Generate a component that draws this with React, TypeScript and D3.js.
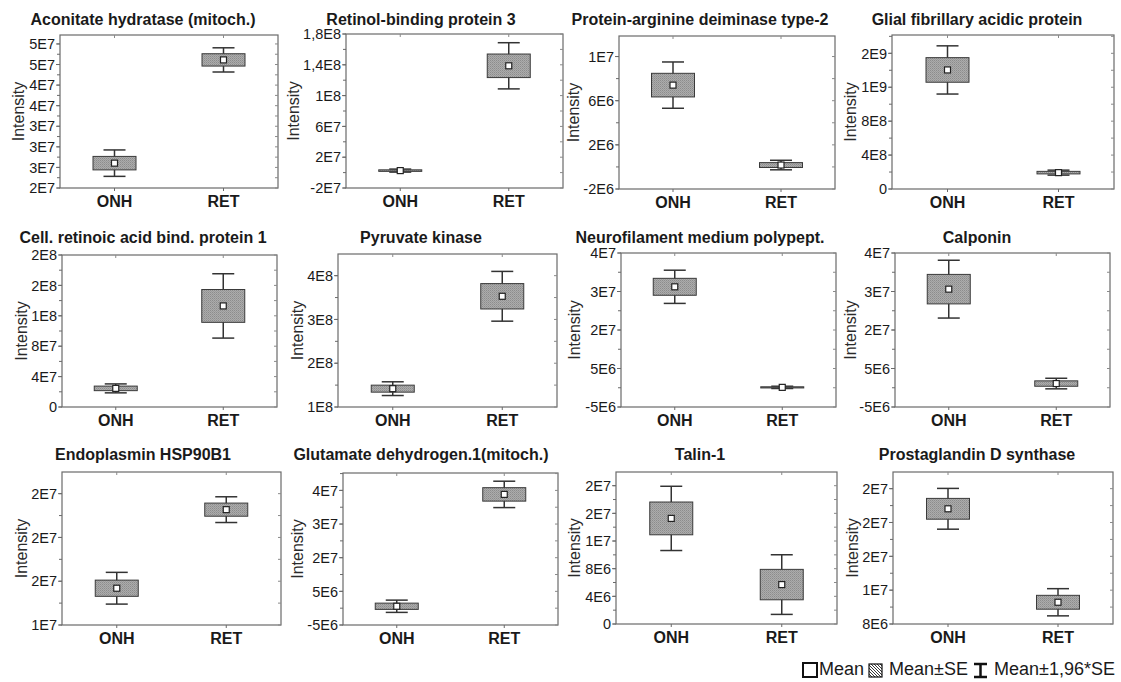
import React from "react";
import * as d3 from "d3";

// ---------- data ----------
const titles = [
  "Aconitate hydratase (mitoch.)",
  "Retinol-binding protein 3",
  "Protein-arginine deiminase type-2",
  "Glial fibrillary acidic protein",
  "Cell. retinoic acid bind. protein 1",
  "Pyruvate kinase",
  "Neurofilament medium polypept.",
  "Calponin",
  "Endoplasmin HSP90B1",
  "Glutamate dehydrogen.1(mitoch.)",
  "Talin-1",
  "Prostaglandin D synthase",
];
const groups = ["ONH", "RET"];
const onhMean = [2.683e7, 2.6e6, 7.41e6, 1.404e9, 2.45e7, 1.419e8, 2.622e7, 2.561e7, 1.568e7, 5.7e5, 1.527e7, 2.162e7];
const onhSE = [1.31e6, 1.0e6, 1.07e6, 1.45e8, 3.0e6, 8.0e6, 2.2e6, 3.83e6, 3.7e5, 9.3e5, 2.37e6, 1.23e6];
const retMean = [4.69e7, 1.387e8, 1.7e5, 1.93e8, 1.33e8, 3.529e8, 1.0e5, 1.09e6, 1.927e7, 3.381e7, 5.7e6, 1.057e7];
const retSE = [1.2e6, 1.53e7, 2.2e5, 1.5e7, 2.16e7, 2.9e7, 1.5e5, 7.0e5, 3.0e5, 2.0e6, 2.2e6, 8.2e5];

const yDomains = [
  [2.2e7, 5.174e7],
  [-2e7, 1.8e8],
  [-2e6, 1.186e7],
  [0, 1.816e9],
  [0, 2e8],
  [1e8, 4.495e8],
  [-5e6, 3.5e7],
  [-5e6, 3.5e7],
  [1.4e7, 2.099e7],
  [-5e6, 4.017e7],
  [0, 2.198e7],
  [8e6, 2.597e7],
];
const yTickValues = [
  [2.2e7, 2.6e7, 3.0e7, 3.4e7, 3.8e7, 4.2e7, 4.6e7, 5.0e7],
  [-2e7, 2e7, 6e7, 1e8, 1.4e8, 1.8e8],
  [-2e6, 2e6, 6e6, 1e7],
  [0, 4e8, 8e8, 1.2e9, 1.6e9],
  [0, 4e7, 8e7, 1.2e8, 1.6e8, 2e8],
  [1e8, 2e8, 3e8, 4e8],
  [-5e6, 5e6, 1.5e7, 2.5e7, 3.5e7],
  [-5e6, 5e6, 1.5e7, 2.5e7, 3.5e7],
  [1.4e7, 1.6e7, 1.8e7, 2.0e7],
  [-5e6, 5e6, 1.5e7, 2.5e7, 3.5e7],
  [0, 4e6, 8e6, 1.2e7, 1.6e7, 2e7],
  [8e6, 1.2e7, 1.6e7, 2e7, 2.4e7],
];
const yTickLabels = [
  ["2E7", "3E7", "3E7", "3E7", "4E7", "4E7", "5E7", "5E7"],
  ["-2E7", "2E7", "6E7", "1E8", "1,4E8", "1,8E8"],
  ["-2E6", "2E6", "6E6", "1E7"],
  ["0", "4E8", "8E8", "1E9", "2E9"],
  ["0", "4E7", "8E7", "1E8", "2E8", "2E8"],
  ["1E8", "2E8", "3E8", "4E8"],
  ["-5E6", "5E6", "2E7", "3E7", "4E7"],
  ["-5E6", "5E6", "2E7", "3E7", "4E7"],
  ["1E7", "2E7", "2E7", "2E7"],
  ["-5E6", "5E6", "2E7", "3E7", "4E7"],
  ["0", "4E6", "8E6", "1E7", "2E7", "2E7"],
  ["8E6", "1E7", "2E7", "2E7", "2E7"],
];
const yAxisTitle = "Intensity";
const legendLabels = ["Mean", "Mean±SE", "Mean±1,96*SE"];

// ---------- layout ----------
const frames = [
  { l: 60, r: 278, t: 35, b: 188, lx: 18 },
  { l: 346, r: 563, t: 34, b: 188, lx: 293 },
  { l: 619, r: 835, t: 36, b: 189, lx: 573 },
  { l: 892, r: 1114, t: 35, b: 189, lx: 850 },
  { l: 62, r: 277, t: 255, b: 407, lx: 21 },
  { l: 338, r: 557, t: 254, b: 407, lx: 297 },
  { l: 621, r: 836, t: 253, b: 407, lx: 574 },
  { l: 895, r: 1110, t: 253, b: 407, lx: 850 },
  { l: 62, r: 281, t: 472, b: 625, lx: 21 },
  { l: 343, r: 558, t: 473, b: 625, lx: 297 },
  { l: 616, r: 837, t: 472, b: 624, lx: 574 },
  { l: 893, r: 1113, t: 472, b: 624, lx: 852 },
];
const titleX = [143, 421, 700, 977];
const titleY = [25, 243, 460];
const FONT = "'Liberation Sans', Arial, Helvetica, sans-serif";
const TEXT = "#1a1a1a";
const BOX_W = 43;
const CAP_W = 22;

function Panel({ i }: { i: number }) {
  const f = frames[i];
  const y = d3.scaleLinear().domain(yDomains[i]).range([f.b, f.t]);
  const x = d3.scalePoint<string>().domain(groups).range([f.l, f.r]).padding(0.5);
  const ticks = yTickValues[i];
  const step = ticks[1] - ticks[0];
  const [d0, d1] = yDomains[i];
  const minor: number[] = [];
  for (let v = ticks[0] - step / 2; v <= d1 + 1e-9 * Math.abs(step); v += step / 2) {
    if (v >= d0 - 1e-9 * Math.abs(step)) minor.push(v);
  }
  const means = [onhMean[i], retMean[i]];
  const ses = [onhSE[i], retSE[i]];
  const col = i % 4;
  const row = Math.floor(i / 4);
  return (
    <g>
      <text
        x={titleX[col]}
        y={titleY[row]}
        textAnchor="middle"
        fontFamily={FONT}
        fontWeight="bold"
        fontSize={16}
        fill={TEXT}
      >
        {titles[i]}
      </text>
      <rect x={f.l} y={f.t} width={f.r - f.l} height={f.b - f.t} fill="white" stroke="#6a6a6a" strokeWidth={1.2} />
      {minor.map((v, k) => (
        <g key={"m" + k}>
          <line x1={f.l - 3} x2={f.l} y1={y(v)} y2={y(v)} stroke="#6a6a6a" strokeWidth={1} />
          <line x1={f.r - 3} x2={f.r} y1={y(v)} y2={y(v)} stroke="#8a8a8a" strokeWidth={1} />
        </g>
      ))}
      {ticks.map((v, k) => (
        <g key={"t" + k}>
          <line x1={f.l - 4} x2={f.l} y1={y(v)} y2={y(v)} stroke="#6a6a6a" strokeWidth={1} />
          <text
            x={f.l - 5}
            y={y(v)}
            dy="0.36em"
            textAnchor="end"
            fontFamily={FONT}
            fontSize={14.5}
            fill={TEXT}
          >
            {yTickLabels[i][k]}
          </text>
        </g>
      ))}
      {groups.map((g) => (
        <g key={"c" + g}>
          <line x1={x(g)} x2={x(g)} y1={f.t} y2={f.t + 3} stroke="#8a8a8a" strokeWidth={1} />
          <line x1={x(g)} x2={x(g)} y1={f.b} y2={f.b + 3} stroke="#6a6a6a" strokeWidth={1} />
          <text
            x={x(g)}
            y={f.b + 19}
            textAnchor="middle"
            fontFamily={FONT}
            fontWeight="bold"
            fontSize={16}
            fill={TEXT}
          >
            {g}
          </text>
        </g>
      ))}
      <text
        transform={`translate(${f.lx},${(f.t + f.b) / 2}) rotate(-90)`}
        textAnchor="middle"
        dominantBaseline="central"
        fontFamily={FONT}
        fontSize={16}
        fill="#2a2a2a"
      >
        {yAxisTitle}
      </text>
      {groups.map((g, k) => {
        const cx = x(g) as number;
        const m = means[k];
        const s = ses[k];
        const yTop = y(m + s);
        const yBot = y(m - s);
        const wTop = y(m + 1.96 * s);
        const wBot = y(m - 1.96 * s);
        return (
          <g key={"b" + g}>
            <line x1={cx} x2={cx} y1={wTop} y2={wBot} stroke="#333" strokeWidth={1.5} />
            <line x1={cx - CAP_W / 2} x2={cx + CAP_W / 2} y1={wTop} y2={wTop} stroke="#333" strokeWidth={1.5} />
            <line x1={cx - CAP_W / 2} x2={cx + CAP_W / 2} y1={wBot} y2={wBot} stroke="#333" strokeWidth={1.5} />
            <rect
              x={cx - BOX_W / 2}
              y={yTop}
              width={BOX_W}
              height={Math.max(1, yBot - yTop)}
              fill="url(#hatch)"
              stroke="#3a3a3a"
              strokeWidth={1}
            />
            <rect x={cx - 3} y={y(m) - 3} width={6} height={6} fill="white" stroke="#222" strokeWidth={1.2} />
          </g>
        );
      })}
    </g>
  );
}

export default function App() {
  return (
    <svg
      width={1121}
      height={682}
      style={{ position: "absolute", left: 0, top: 0, background: "white" }}
    >
      <defs>
        <pattern id="hatch" patternUnits="userSpaceOnUse" width={2} height={2}>
          <rect width={2} height={2} fill="#acacac" />
          <rect x={0} y={0} width={1} height={1} fill="#8c8c8c" />
          <rect x={1} y={1} width={1} height={1} fill="#9a9a9a" />
        </pattern>
        <pattern id="hatchLegend" patternUnits="userSpaceOnUse" width={3} height={3}>
          <rect width={3} height={3} fill="#ffffff" />
          <path d="M0,0 L3,3 M-1,2 L1,4 M2,-1 L4,1" stroke="#222" strokeWidth={0.9} />
        </pattern>
      </defs>
      <rect width={1121} height={682} fill="white" />
      {titles.map((_, i) => (
        <Panel key={i} i={i} />
      ))}
      <g fontFamily={FONT} fontSize={18} fill={TEXT}>
        <rect x={803} y={663} width={14} height={14} fill="white" stroke="#111" strokeWidth={2} />
        <text x={819} y={675}>{legendLabels[0]}</text>
        <rect x={869} y={664} width={13} height={13} fill="url(#hatchLegend)" stroke="#111" strokeWidth={1.2} />
        <text x={889} y={675}>{legendLabels[1]}</text>
        <line x1={980.5} x2={980.5} y1={664} y2={677} stroke="#111" strokeWidth={2.5} />
        <line x1={974} x2={987} y1={664} y2={664} stroke="#111" strokeWidth={2.5} />
        <line x1={974} x2={987} y1={677} y2={677} stroke="#111" strokeWidth={2.5} />
        <text x={994} y={675}>{legendLabels[2]}</text>
      </g>
    </svg>
  );
}
